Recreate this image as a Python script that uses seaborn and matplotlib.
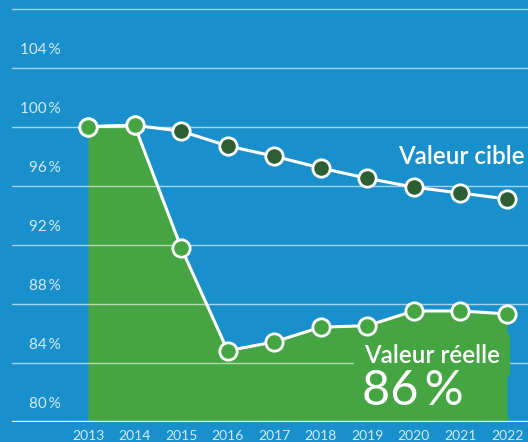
import matplotlib
matplotlib.use("Agg")
import matplotlib.pyplot as plt
import seaborn as sns
import pandas as pd

years = [2013, 2014, 2015, 2016, 2017, 2018, 2019, 2020, 2021, 2022]
actual = [100.0, 100.1, 91.8, 84.8, 85.4, 86.4, 86.5, 87.5, 87.5, 87.3]
target = [100.0, 100.1, 99.7, 98.7, 98.0, 97.2, 96.5, 95.9, 95.5, 95.1]
ytick_vals = [80, 84, 88, 92, 96, 100, 104]
grid_vals = [84, 88, 92, 96, 100, 104, 108]
ytick_labels = ["80\u2009%", "84\u2009%", "88\u2009%", "92\u2009%", "96\u2009%", "100\u2009%", "104\u2009%"]
label_target = "Valeur cible"
label_actual = "Valeur réelle"
label_value = "86\u2009%"

BLUE = "#1990cb"
GREEN = "#46a543"
DARK = "#2e5e34"
PALE = "#d4eaf6"

sns.set_theme(style="white")
plt.rcParams["font.family"] = ["Lato", "DejaVu Sans"]

fig = plt.figure(figsize=(5.28, 4.42), dpi=100)
fig.patch.set_facecolor(BLUE)
ax = fig.add_axes([12 / 528, 20.5 / 442, 516 / 528, 421.5 / 442])
ax.set_facecolor(BLUE)
for s in ax.spines.values():
    s.set_visible(False)

df = pd.DataFrame({"year": years, "actual": actual, "target": target})

ax.fill_between(df["year"], 80, df["actual"], color=GREEN, lw=0, zorder=1)

for g in grid_vals:
    ax.axhline(g, color="white", alpha=0.6, lw=1.0, zorder=1.5)
ax.axhline(80, color="white", lw=2.4, zorder=4)

sns.lineplot(data=df, x="year", y="target", ax=ax, color="white", lw=2.2,
             marker="o", markersize=12.5, markerfacecolor=DARK,
             markeredgecolor="white", markeredgewidth=2.0, zorder=3)
sns.lineplot(data=df, x="year", y="actual", ax=ax, color="white", lw=2.2,
             marker="o", markersize=12.5, markerfacecolor=GREEN,
             markeredgecolor="white", markeredgewidth=2.0, zorder=3.5)

ax.set_xlim(2011.368, 2022.451)
ax.set_ylim(80, 108.6)

ax.set_xticks(years)
ax.set_xticklabels([str(y) for y in years], color=PALE, fontsize=10)
ax.tick_params(axis="x", length=0, pad=6)
ax.set_yticks([])
ax.set_xlabel("")
ax.set_ylabel("")

for v, lab in zip(ytick_vals, ytick_labels):
    ax.text(0.095, v + 1.2, lab, transform=ax.get_yaxis_transform(),
            ha="right", va="center", color=PALE, fontsize=11, fontweight="normal",
            zorder=5)

ax.text(2019.66, 97.96, label_target, ha="left", va="center", color="white",
        fontsize=17.5, fontweight="semibold", zorder=5)
ax.text(2018.93, 84.5, label_actual, ha="left", va="center", color="white",
        fontsize=17.5, fontweight="semibold", zorder=2,
        bbox=dict(boxstyle="square,pad=0.4", fc=GREEN, ec="none"))
ax.text(2018.88, 82.1, label_value, ha="left", va="center", color="white",
        fontsize=35, fontweight="normal", zorder=5)

fig.savefig("out.png", dpi=100, facecolor=BLUE)
